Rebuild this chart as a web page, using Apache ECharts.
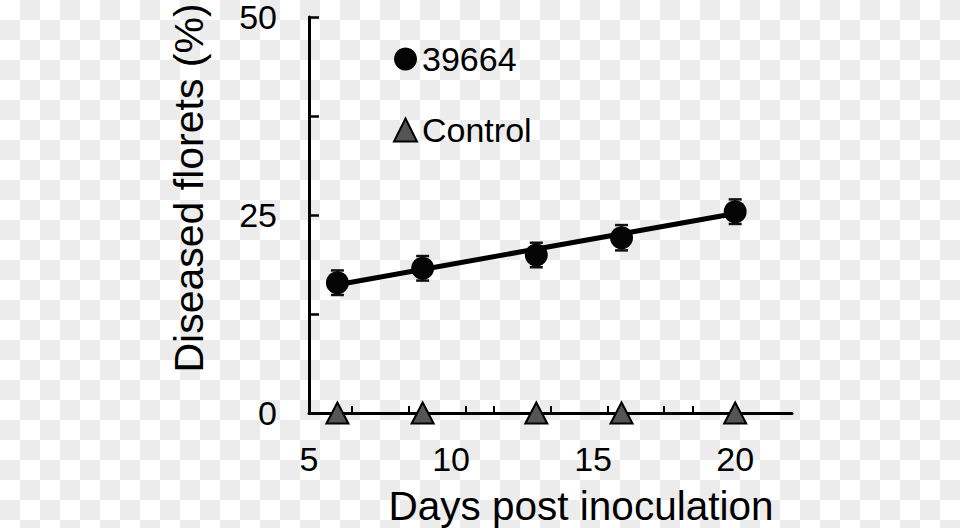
<!DOCTYPE html>
<html>
<head>
<meta charset="utf-8">
<script src="https://cdn.jsdelivr.net/npm/echarts@6/dist/echarts.min.js"></script>
<style>
html,body{margin:0;padding:0;}
body{width:960px;height:528px;background-color:#fff;
background-image:conic-gradient(#ececec 0 25%, #ffffff 0 50%, #ececec 0 75%, #ffffff 0);
background-size:40px 40px;}
#chart{width:960px;height:528px;}
</style>
</head>
<body>
<div id="chart"></div>
<script>
// ---- data ----
const xTickLabels = [5, 10, 15, 20];
const yTickLabels = [0, 25, 50];
const xMinorTicks = [6.5, 8.5, 10.5, 11.5, 13.5, 15.5, 17.5, 18.5];
const days39664 = [6, 9, 13, 16, 20];
const florets39664 = [16.45, 18.27, 19.95, 22.13, 25.42];
const err39664 = [1.55, 1.55, 1.55, 1.6, 1.55];
const daysControl = [6, 9, 13, 16, 20];
const floretsControl = [0, 0, 0, 0, 0];
const trendDays = [6, 20];
const trendFlorets = [16.2, 25.2];
const seriesNames = ['39664', 'Control'];
const xTitle = 'Days post inoculation';
const yTitle = 'Diseased florets (%)';

const FONT = '"Liberation Sans", Arial, sans-serif';
const chart = echarts.init(document.getElementById('chart'), null, {renderer: 'svg'});

const option = {
  animation: false,
  backgroundColor: 'transparent',
  grid: {left: 309, right: 168, top: 17, bottom: 115, containLabel: false},
  legend: {
    orient: 'vertical', left: 393, top: 42, itemWidth: 23, itemHeight: 23,
    itemGap: 37, padding: 0,
    textStyle: {fontFamily: FONT, fontSize: 34, color: '#000', padding: [0,0,0,0]},
    data: seriesNames
  },
  xAxis: {
    type: 'value', min: 5, max: 22, interval: 5,
    axisLine: {lineStyle: {color: '#000', width: 3}},
    axisTick: {inside: true, length: 7, lineStyle: {color: '#000', width: 2}, customValues: xMinorTicks},
    axisLabel: {fontFamily: FONT, fontSize: 34, color: '#000', margin: 29, customValues: xTickLabels},
    splitLine: {show: false}
  },
  yAxis: {
    type: 'value', min: 0, max: 50, interval: 12.5,
    axisLine: {show: true, lineStyle: {color: '#000', width: 3}},
    axisTick: {show: true, inside: true, length: 10, lineStyle: {color: '#000', width: 2.5}},
    axisLabel: {fontFamily: FONT, fontSize: 34, lineHeight: 28, color: '#000', margin: 32, customValues: yTickLabels},
    splitLine: {show: false}
  },
  graphic: [
    {type: 'text', x: 581, y: 506, style: {text: xTitle, font: '40.5px ' + FONT, fill: '#000', textAlign: 'center', textVerticalAlign: 'middle'}},
    {type: 'text', x: 189, y: 188, rotation: Math.PI / 2, style: {text: yTitle, font: '41px ' + FONT, fill: '#000', textAlign: 'center', textVerticalAlign: 'middle'}}
  ],
  series: [
    {
      type: 'line', name: 'trend', silent: true, symbol: 'none',
      lineStyle: {color: '#000', width: 5},
      data: trendDays.map((d, i) => [d, trendFlorets[i]]), z: 2
    },
    {
      type: 'custom', name: 'err', silent: true, z: 3,
      renderItem: function (params, api) {
        const x = api.value(0), y = api.value(1), e = api.value(2);
        const t = api.coord([x, y + e]), b = api.coord([x, y - e]);
        const hw = 6.5, st = {stroke: '#111', lineWidth: 2.5};
        return {type: 'group', children: [
          {type: 'line', shape: {x1: t[0], y1: t[1], x2: b[0], y2: b[1]}, style: st},
          {type: 'line', shape: {x1: t[0] - hw, y1: t[1], x2: t[0] + hw, y2: t[1]}, style: st},
          {type: 'line', shape: {x1: b[0] - hw, y1: b[1], x2: b[0] + hw, y2: b[1]}, style: st}
        ]};
      },
      data: days39664.map((d, i) => [d, florets39664[i], err39664[i]])
    },
    {
      type: 'scatter', name: seriesNames[0], symbol: 'circle', symbolSize: 23, z: 4,
      itemStyle: {color: '#050505', opacity: 1},
      data: days39664.map((d, i) => [d, florets39664[i]])
    },
    {
      type: 'scatter', name: seriesNames[1], symbol: 'triangle', symbolSize: [22, 21], z: 5, clip: false,
      itemStyle: {color: '#555555', borderColor: '#000', borderWidth: 2, opacity: 1},
      data: daysControl.map((d, i) => [d, floretsControl[i]])
    }
  ]
};
chart.setOption(option);
</script>
</body>
</html>
